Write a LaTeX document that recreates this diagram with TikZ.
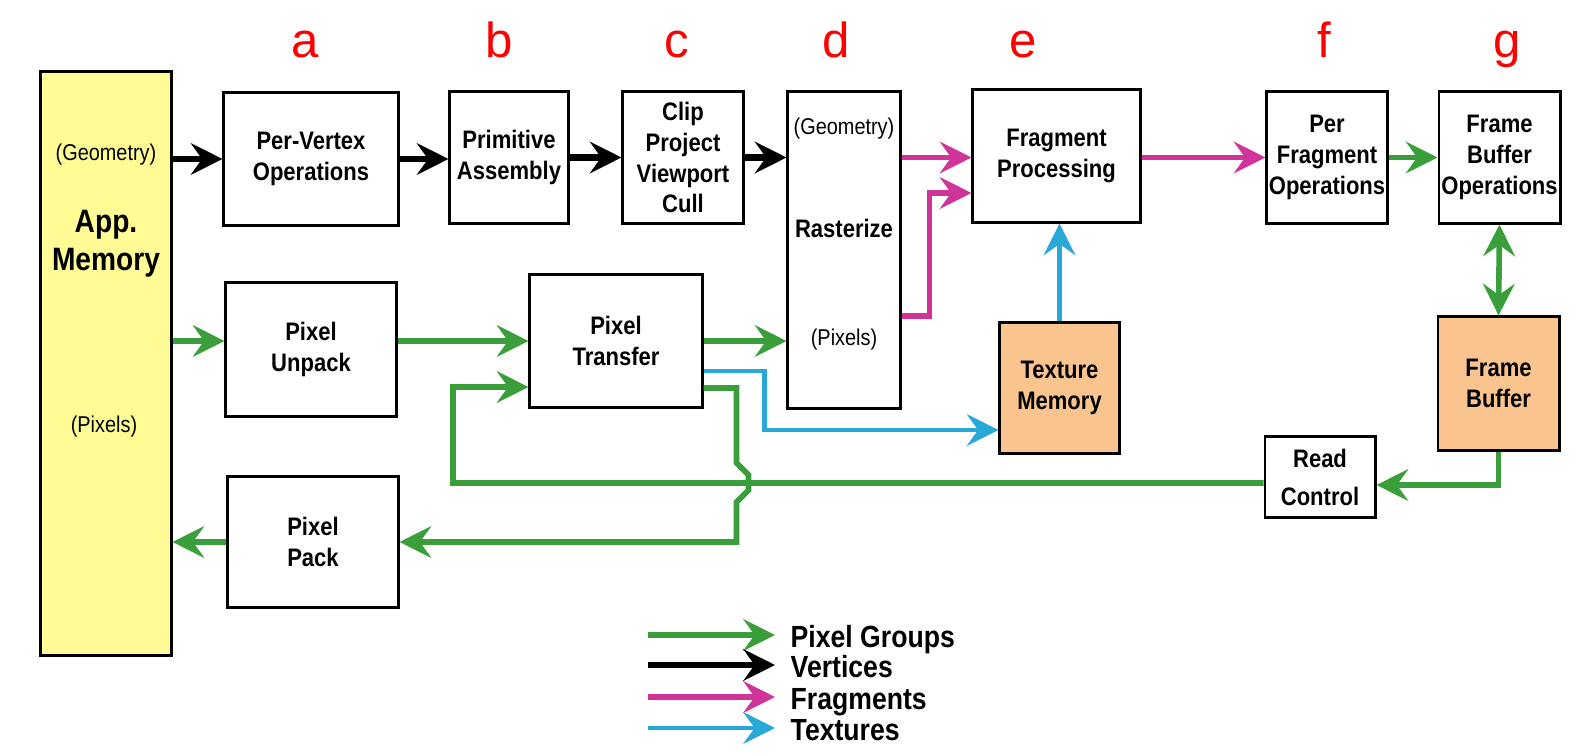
\documentclass[tikz,border=0pt]{standalone}
\usepackage{fontspec}
\setmainfont{Liberation Sans}
\newfontfamily\narrowfont{Liberation Sans}[FakeStretch=0.87]
\usetikzlibrary{arrows.meta}

\definecolor{memyellow}{RGB}{255,252,150}
\definecolor{texorange}{RGB}{250,196,142}
\definecolor{pixgreen}{RGB}{58,158,58}
\definecolor{fragpink}{RGB}{208,52,152}
\definecolor{texblue}{RGB}{40,168,214}

\newcommand\boxtxt{\narrowfont\bfseries\fontsize{7.2}{8.8}\selectfont}
\newcommand\memtxt{\narrowfont\bfseries\fontsize{9.2}{10.8}\selectfont}
\newcommand\smalltxt{\narrowfont\fontsize{6.5}{7.5}\selectfont}
\newcommand\keytxt{\narrowfont\bfseries\fontsize{8.7}{8.7}\selectfont}
\newcommand\stagetxt{\fontsize{14}{14}\selectfont}

\begin{document}
\begin{tikzpicture}[x=0.01cm,y=-0.01cm,
  box/.style={draw,line width=0.85pt,align=center,inner sep=0pt,font=\boxtxt},
  sz/.style 2 args={minimum width=#1,minimum height=#2},
  store/.style={box,fill=texorange},
  small/.style={inner sep=0pt,font=\smalltxt},
  arr/.style={-{Stealth[length=9pt,width=9pt,inset=3.2pt]}},
  vtx/.style={arr,draw=black,line width=1.9pt},
  pix/.style={arr,draw=pixgreen,line width=1.6pt},
  frag/.style={arr,draw=fragpink,line width=1.6pt},
  txr/.style={arr,draw=texblue,line width=1.4pt},
  stage/.style={text=red,font=\stagetxt,anchor=base,inner sep=0pt},
  keytext/.style={anchor=base west,inner sep=0pt,font=\keytxt}]

\useasboundingbox (0,0) rectangle (1586,755);

% stage letters
\foreach \x/\l in {305/a,499/b,677/c,836/d,1023/e,1324/f,1507/g}
  \node[stage] (stage\l) at (\x,58) {\l};

% application memory
\node[box,sz={1.30cm}{5.83cm},fill=memyellow] (mem) at (106,363.5) {};
\node[small] (memgeo) at (106,155) {(Geometry)};
\node[inner sep=0pt,font=\memtxt,align=center] (memname) at (106,244) {App.\\Memory};
\node[small] (mempix) at (104,427) {(Pixels)};

% geometry path
\node[box,sz={1.74cm}{1.32cm}] (pv) at (311,159) {Per-Vertex\\Operations};
\node[box,sz={1.18cm}{1.31cm}] (pa) at (509,157.5) {Primitive\\Assembly};
\node[box,sz={1.20cm}{1.31cm}] (clip) at (683,157.5) {Clip\\Project\\Viewport\\Cull};
\node[box,sz={1.12cm}{3.16cm}] (rast) at (844,250) {};
\node[small] (rastgeo) at (844,129) {(Geometry)};
\node[inner sep=0pt,font=\boxtxt] (rastname) at (844,228) {Rasterize};
\node[small] (rastpix) at (844,340) {(Pixels)};
\node[box,sz={1.67cm}{1.32cm}] (fp) at (1056.5,156) {Fragment\\Processing};
\node[box,sz={1.20cm}{1.31cm}] (pfo) at (1327,157.5) {Per\\Fragment\\Operations};
\node[box,sz={1.21cm}{1.31cm}] (fbo) at (1499.5,157.5) {Frame\\Buffer\\Operations};

% pixel path
\node[box,sz={1.70cm}{1.33cm}] (unpack) at (311,349.5) {Pixel\\Unpack};
\node[box,sz={1.72cm}{1.32cm}] (xfer) at (616,341) {Pixel\\Transfer};
\node[store,sz={1.19cm}{1.30cm}] (texmem) at (1059.5,388) {Texture\\Memory};
\node[store,sz={1.21cm}{1.33cm}] (fb) at (1498.5,383.5) {Frame\\Buffer};
\node[box,sz={1.10cm}{0.80cm}] (rc) at (1320,477) {Read\\[2pt]Control};
\node[box,sz={1.70cm}{1.30cm}] (pack) at (313,542) {Pixel\\Pack};

% vertices
\draw[vtx] (mem.east |- pv.west) -- (pv.west);
\draw[vtx] (pv.east) -- (pv.east -| pa.west);
\draw[vtx] (pa) -- (clip);
\draw[vtx] (clip.east) -- (clip.east -| rast.west);

% fragments
\draw[frag] (rast.east |- clip.east) -- (fp.west |- clip.east);
\draw[frag] ([yshift=-0.66cm]rast.east) -- ++(28,0) |- ([yshift=-0.37cm]fp.west);
\draw[frag] (fp.east |- pfo.west) -- (pfo.west);

% pixel groups
\draw[pix] (pfo) -- (fbo);
\draw[pix,{Stealth[length=9pt,width=9pt,inset=3.2pt]}-{Stealth[length=9pt,width=9pt,inset=3.2pt]}] (fbo.south) -- (fb.north);
\draw[pix] (fb.south) |- ([yshift=-0.08cm]rc.east);
\coordinate (loop) at (453,483);
\draw[pix] ([yshift=-0.06cm]rc.west) -- (loop) |- ([yshift=-0.46cm]xfer.west);
\draw[pix] ([yshift=-0.47cm]xfer.east) -- ++(33,0) -- ++(0,75) -- ++(12,12) -- ++(0,15) -- ++(-12,12) |- (pack.east);
\draw[pix] (mem.east |- xfer.west) -- (unpack.west |- xfer.west);
\draw[pix] (unpack.east |- xfer.west) -- (xfer.west);
\draw[pix] (xfer.east) -- (xfer.east -| rast.west);
\draw[pix] (pack.west) -- (pack.west -| mem.east);

% textures
\draw[txr] ([yshift=-0.30cm]xfer.east) -- ++(61,0) |- ([yshift=-0.42cm]texmem.west);
\draw[txr] (texmem.north) -- (texmem.north |- fp.south);

% legend
\node[keytext] (keypix) at (790,647) {Pixel Groups};
\node[keytext] (keyvtx) at (790,677) {Vertices};
\node[keytext] (keyfrag) at (790,709) {Fragments};
\node[keytext] (keytex) at (790,740) {Textures};
\draw[pix] ([xshift=-1.42cm,yshift=0.12cm]keypix.base west) -- ([xshift=-0.15cm,yshift=0.12cm]keypix.base west);
\draw[vtx] ([xshift=-1.42cm,yshift=0.12cm]keyvtx.base west) -- ([xshift=-0.15cm,yshift=0.12cm]keyvtx.base west);
\draw[frag] ([xshift=-1.42cm,yshift=0.12cm]keyfrag.base west) -- ([xshift=-0.15cm,yshift=0.12cm]keyfrag.base west);
\draw[txr] ([xshift=-1.42cm,yshift=0.12cm]keytex.base west) -- ([xshift=-0.15cm,yshift=0.12cm]keytex.base west);

\end{tikzpicture}
\end{document}
